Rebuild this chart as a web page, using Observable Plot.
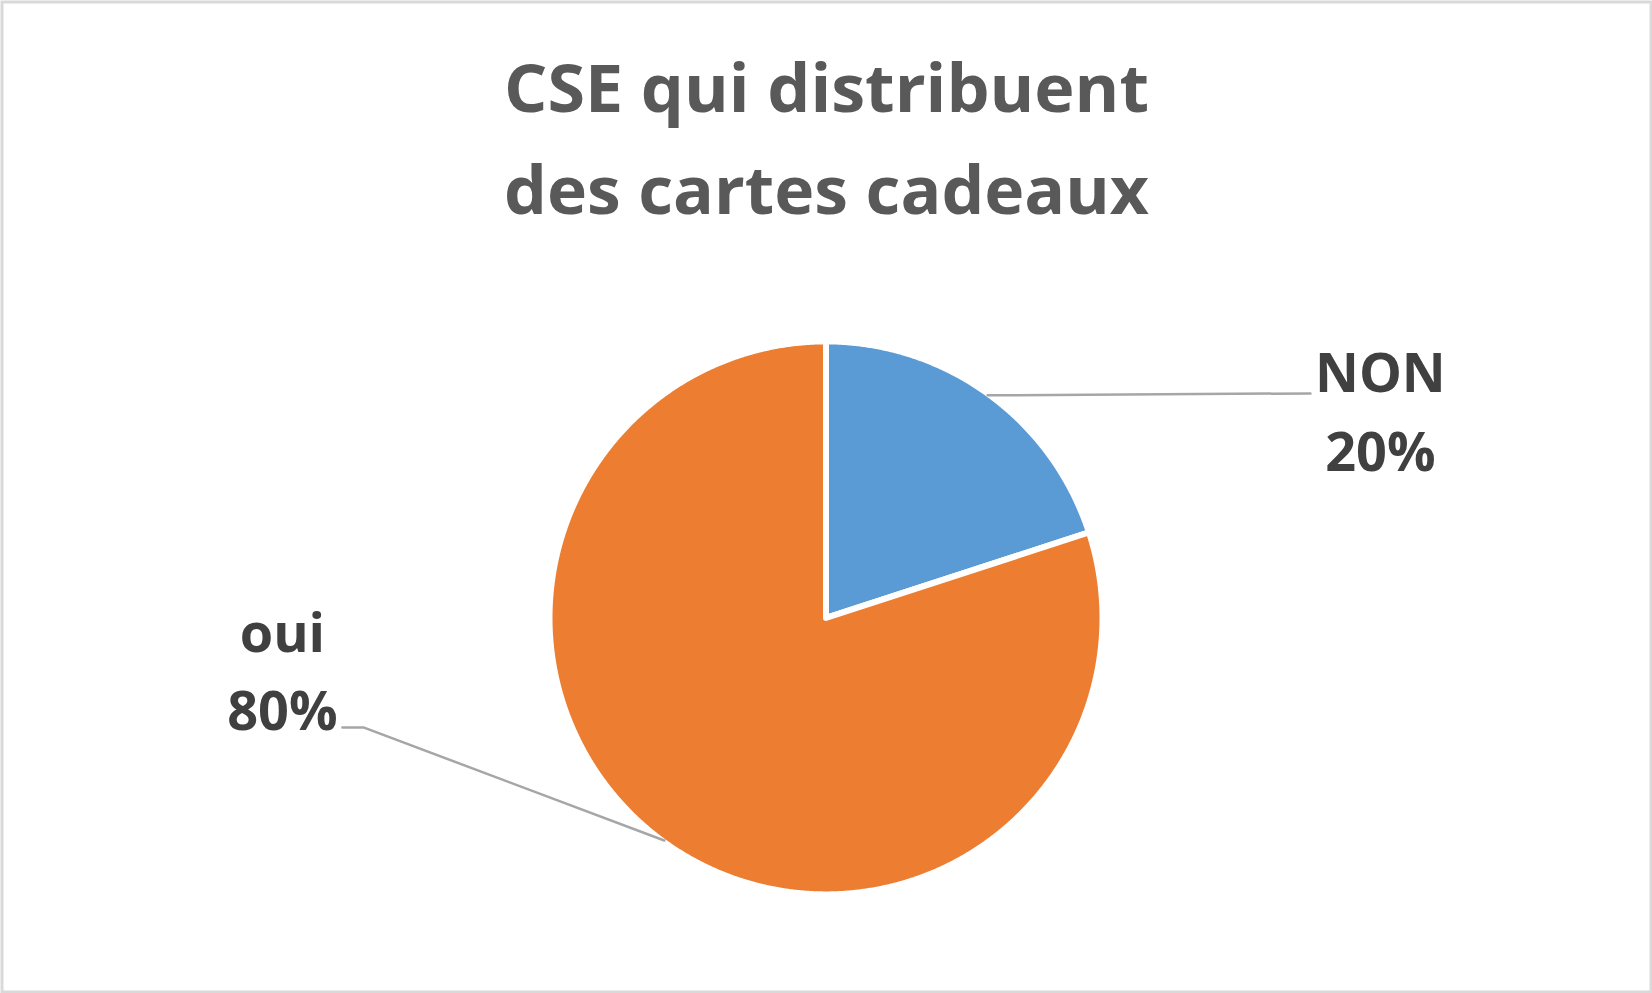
<!DOCTYPE html>
<html><head><meta charset="utf-8">
<script src="https://cdn.jsdelivr.net/npm/d3@7"></script>
<script src="https://cdn.jsdelivr.net/npm/@observablehq/plot@0.6"></script>
<style>html,body{margin:0;padding:0;background:#fff;} svg{display:block}</style>
</head><body><div id="chart"></div>
<script>
// ---- data ----
const titleLines = ["CSE qui distribuent", "des cartes cadeaux"];
const categories = ["NON", "oui"];
const values = [20, 80];
const percentLabels = ["20%", "80%"];
const colors = ["#5B9BD5", "#ED7D31"];

// ---- layout (not data) ----
const W = 1652, H = 993;
const cx = 825.5, cy = 617.4, R = 276.5;           // pie centre / radius in px
const xDomain = [-cx / R, (W - cx) / R];
const yDomain = [-(H - cy) / R, cy / R];
// leader-line bends and label anchors, in radius units
const leaderBends = {NON: [[1.752, 0.812]], oui: [[-1.673, -0.396], [-1.749, -0.396]]};
const labelAnchor = {NON: [2.005, 0.816], oui: [-1.966, -0.122]};
const labelGap = 0.285; // distance between name baseline and percent baseline

// ---- pie geometry from data ----
const arcs = d3.pie().sort(null).value(d => d)(values);
const slicePts = [];
const leaderPts = [];
const nameLabels = [], pctLabels = [];
arcs.forEach((a, i) => {
  const cat = categories[i];
  const n = Math.max(2, Math.ceil((a.endAngle - a.startAngle) / 0.005));
  slicePts.push({cat, x: 0, y: 0});
  for (let k = 0; k <= n; k++) {
    const t = a.startAngle + (a.endAngle - a.startAngle) * k / n;
    slicePts.push({cat, x: Math.sin(t), y: Math.cos(t)});
  }
  const mid = (a.startAngle + a.endAngle) / 2;
  leaderPts.push({cat, x: 0.995 * Math.sin(mid), y: 0.995 * Math.cos(mid)});
  leaderBends[cat].forEach(([x, y]) => leaderPts.push({cat, x, y}));
  const [lx, ly] = labelAnchor[cat];
  nameLabels.push({cat, x: lx, y: ly, text: cat});
  pctLabels.push({cat, x: lx, y: ly - labelGap, text: percentLabels[i]});
});

const svg = Plot.plot({
  width: W, height: H,
  margin: 0,
  x: {domain: xDomain, axis: null},
  y: {domain: yDomain, axis: null},
  color: {domain: categories, range: colors},
  style: {background: "#fff", fontFamily: "'Open Sans', sans-serif"},
  marks: [
    Plot.line(slicePts, {x: "x", y: "y", z: "cat", fill: "cat", stroke: "#fff", strokeWidth: 6,
      strokeLinejoin: "round", curve: "linear-closed"}),
    Plot.line(leaderPts, {x: "x", y: "y", z: "cat", stroke: "#A6A6A6", strokeWidth: 2.5}),
    Plot.text(nameLabels, {x: "x", y: "y", text: "text", lineAnchor: "bottom", fontSize: 54,
      fontWeight: "bold", fill: "#404040"}),
    Plot.text(pctLabels, {x: "x", y: "y", text: "text", lineAnchor: "bottom", fontSize: 54,
      fontWeight: "bold", fill: "#404040"}),
    Plot.text([titleLines[0]], {frameAnchor: "top", lineAnchor: "bottom", dy: 111, fontSize: 67,
      fontWeight: "bold", fill: "#595959"}),
    Plot.text([titleLines[1]], {frameAnchor: "top", lineAnchor: "bottom", dy: 213, fontSize: 67,
      fontWeight: "bold", fill: "#595959"}),
    Plot.frame({stroke: "#D9D9D9", strokeWidth: 3, inset: 1.5})
  ]
});

// condense title to the reference width (Calibri is narrower than available fonts)
d3.select(svg).selectAll("text").each(function () {
  const t = this.textContent;
  if (titleLines.includes(t)) {
    this.setAttribute("textLength", 645);
    this.setAttribute("lengthAdjust", "spacingAndGlyphs");
  }
});
document.getElementById("chart").appendChild(svg);
</script>
</body></html>
